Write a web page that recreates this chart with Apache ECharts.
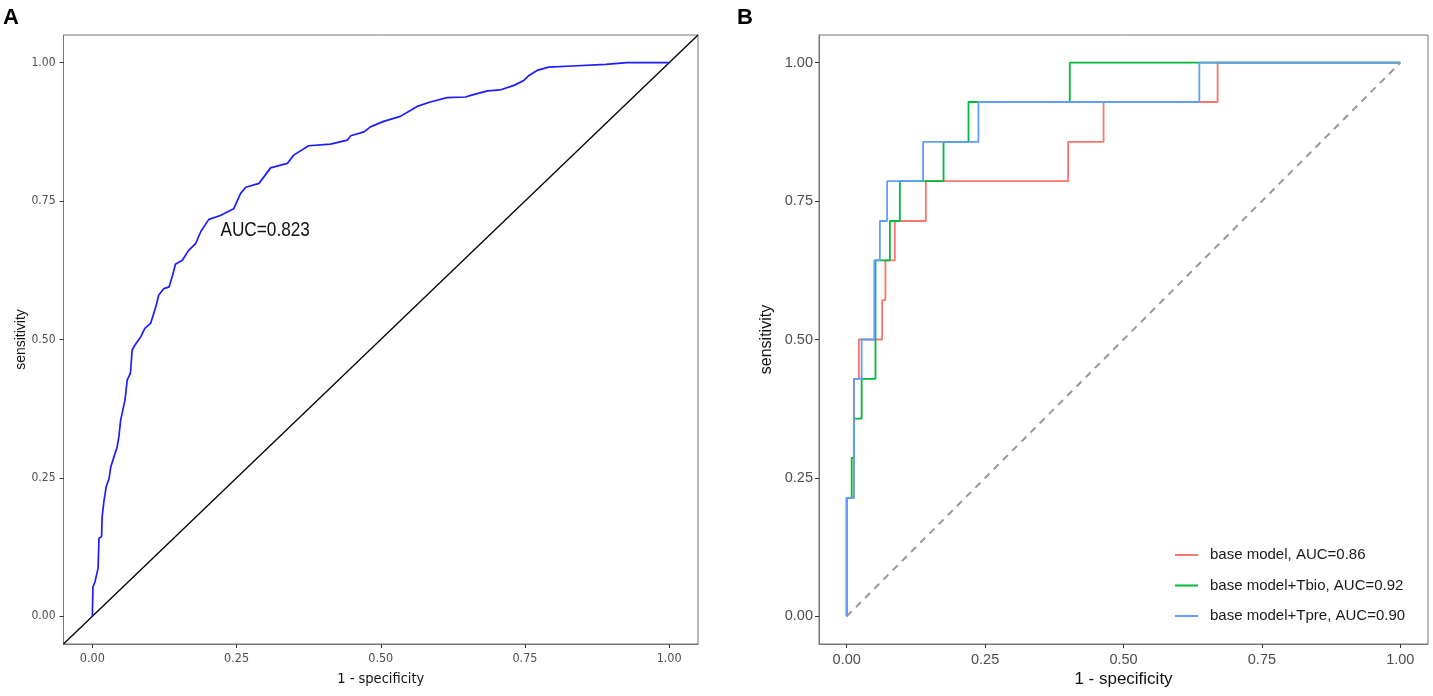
<!DOCTYPE html>
<html>
<head>
<meta charset="utf-8">
<script src="https://cdn.jsdelivr.net/npm/echarts@6/dist/echarts.min.js"></script>
<style>
  html, body { margin: 0; padding: 0; background: #fff; }
  #main { width: 1433px; height: 696px; }
</style>
</head>
<body>
<div id="main"></div>
<script>
// panel A: single ROC curve (1 - specificity, sensitivity)
const fprA = [0, 0.001, 0.0045, 0.010, 0.0115, 0.016, 0.017, 0.020, 0.024, 0.029,
  0.032, 0.0375, 0.043, 0.046, 0.049, 0.052, 0.0565, 0.0605, 0.066, 0.069,
  0.074, 0.084, 0.091, 0.101, 0.110, 0.115, 0.124, 0.133, 0.140, 0.144,
  0.156, 0.167, 0.179, 0.188, 0.202, 0.222, 0.245, 0.257, 0.266, 0.289,
  0.309, 0.338, 0.349, 0.375, 0.413, 0.442, 0.448, 0.471, 0.482, 0.505,
  0.534, 0.552, 0.563, 0.586, 0.615, 0.647, 0.656, 0.685, 0.708, 0.731,
  0.748, 0.757, 0.771, 0.791, 0.832, 0.890, 0.927, 1.0];
const tprA = [0, 0.053, 0.062, 0.087, 0.141, 0.144, 0.180, 0.207, 0.234, 0.249,
  0.270, 0.288, 0.306, 0.324, 0.354, 0.357, 0.390, 0.427, 0.439, 0.481,
  0.490, 0.505, 0.520, 0.529, 0.559, 0.580, 0.592, 0.595, 0.619, 0.636,
  0.643, 0.661, 0.673, 0.695, 0.717, 0.724, 0.736, 0.764, 0.775, 0.782,
  0.810, 0.818, 0.833, 0.850, 0.853, 0.860, 0.868, 0.875, 0.884, 0.894,
  0.903, 0.914, 0.921, 0.929, 0.937, 0.938, 0.941, 0.949, 0.951, 0.959,
  0.968, 0.977, 0.986, 0.992, 0.994, 0.997, 1.0, 1.0];
const aucLabelA = 'AUC=0.823';
const aucPosA = [0.222, 0.697];

// panel B: three models, step corners
const fprBase = [0, 0, 0.013, 0.013, 0.022, 0.022, 0.064, 0.064, 0.070, 0.070, 0.087,
  0.087, 0.143, 0.143, 0.400, 0.400, 0.464, 0.464, 0.670, 0.670, 1.0];
const tprBase = [0, 0.214, 0.214, 0.429, 0.429, 0.5, 0.5, 0.571, 0.571, 0.643, 0.643,
  0.714, 0.714, 0.786, 0.786, 0.857, 0.857, 0.929, 0.929, 1.0, 1.0];

const fprTbio = [0, 0, 0.009, 0.009, 0.013, 0.013, 0.027, 0.027, 0.052, 0.052, 0.078,
  0.078, 0.096, 0.096, 0.175, 0.175, 0.220, 0.220, 0.403, 0.403, 1.0];
const tprTbio = [0, 0.214, 0.214, 0.286, 0.286, 0.357, 0.357, 0.429, 0.429, 0.643, 0.643,
  0.714, 0.714, 0.786, 0.786, 0.857, 0.857, 0.929, 0.929, 1.0, 1.0];

const fprTpre = [0, 0, 0.013, 0.013, 0.027, 0.027, 0.050, 0.050, 0.060, 0.060,
  0.073, 0.073, 0.138, 0.138, 0.238, 0.238, 0.637, 0.637, 1.0];
const tprTpre = [0, 0.214, 0.214, 0.429, 0.429, 0.5, 0.5, 0.643, 0.643, 0.714,
  0.714, 0.786, 0.786, 0.857, 0.857, 0.929, 0.929, 1.0, 1.0];

const modelNames = ['base model, AUC=0.86', 'base model+Tbio, AUC=0.92', 'base model+Tpre, AUC=0.90'];
const modelColors = ['#F8766D', '#00BA38', '#619CFF'];

const tickValues = [0, 0.25, 0.5, 0.75, 1];
const axisRange = [-0.05, 1.05];

const zip = (xs, ys) => xs.map((x, i) => [x, ys[i]]);

const condensed = '"DejaVu Sans Condensed", "Liberation Sans Narrow", sans-serif';
const regular = '"Liberation Sans", Arial, sans-serif';

function makeAxis(gridIndex, font, size, margin) {
  return {
    type: 'value',
    gridIndex,
    min: axisRange[0],
    max: axisRange[1],
    splitLine: { show: false },
    nameMoveOverlap: false,
    axisLine: { show: true, onZero: false, lineStyle: { color: '#777', width: 1 } },
    axisTick: {
      show: true, inside: false, length: 4, customValues: tickValues,
      lineStyle: { color: '#333', width: 1 }
    },
    axisLabel: {
      customValues: tickValues,
      formatter: v => v.toFixed(2),
      color: '#4d4d4d', fontFamily: font, fontSize: size, margin
    }
  };
}

const xA = makeAxis(0, condensed, 12.5, 8);
Object.assign(xA, {
  name: '1 - specificity', nameLocation: 'middle', nameGap: 28,
  nameTextStyle: { color: '#111', fontFamily: condensed, fontSize: 14.5 }
});
const yA = makeAxis(0, condensed, 12, 8);
Object.assign(yA, {
  name: 'sensitivity', nameLocation: 'middle', nameGap: 35,
  nameTextStyle: { color: '#111', fontFamily: regular, fontSize: 14 }
});
const xB = makeAxis(1, regular, 14.5, 8);
Object.assign(xB, {
  name: '1 - specificity', nameLocation: 'middle', nameGap: 27,
  nameTextStyle: { color: '#111', fontFamily: regular, fontSize: 17 }
});
const yB = makeAxis(1, regular, 14.5, 6);
Object.assign(yB, {
  name: 'sensitivity', nameLocation: 'middle', nameGap: 44,
  nameTextStyle: { color: '#111', fontFamily: regular, fontSize: 16 }
});

const chart = echarts.init(document.getElementById('main'), null, { renderer: 'canvas' });

const option = {
  animation: false,
  backgroundColor: '#fff',
  graphic: [
    { id: 'tagA', type: 'text', left: 3, top: 7, style: { text: 'A', font: 'bold 22px ' + regular, fill: '#000' } },
    { id: 'tagB', type: 'text', left: 737, top: 7, style: { text: 'B', font: 'bold 22px ' + regular, fill: '#000' } }
  ],
  grid: [
    { left: 63.5, top: 35, width: 634.5, height: 609, show: true, borderColor: '#777', borderWidth: 1, backgroundColor: 'transparent' },
    { left: 819, top: 35, width: 609, height: 609, show: true, borderColor: '#777', borderWidth: 1, backgroundColor: 'transparent' }
  ],
  xAxis: [xA, xB],
  yAxis: [yA, yB],
  legend: {
    data: modelNames,
    orient: 'vertical',
    left: 1175,
    top: 547,
    icon: 'rect',
    itemWidth: 23,
    itemHeight: 2,
    itemGap: 14.5,
    padding: 0,
    textStyle: { fontFamily: regular, fontSize: 15, color: '#1a1a1a', lineHeight: 16, padding: [0, 0, 0, 7] }
  },
  series: [
    {
      type: 'line', xAxisIndex: 0, yAxisIndex: 0, silent: true,
      data: zip([axisRange[0], axisRange[1]], [axisRange[0], axisRange[1]]),
      showSymbol: false, lineStyle: { color: '#000', width: 1.3 }
    },
    {
      type: 'line', xAxisIndex: 0, yAxisIndex: 0,
      data: zip(fprA, tprA),
      showSymbol: false, lineStyle: { color: '#1c1cff', width: 1.7 }
    },
    {
      type: 'line', xAxisIndex: 1, yAxisIndex: 1, silent: true,
      data: zip([0, 1], [0, 1]),
      showSymbol: false, lineStyle: { color: '#999', width: 2, type: [7, 6] }
    },
    ...[[fprBase, tprBase], [fprTbio, tprTbio], [fprTpre, tprTpre]].map(([xs, ys], i) => ({
      name: modelNames[i],
      type: 'line', xAxisIndex: 1, yAxisIndex: 1,
      data: zip(xs, ys),
      showSymbol: false,
      itemStyle: { color: modelColors[i] },
      lineStyle: { color: modelColors[i], width: 1.8 }
    }))
  ]
};

chart.setOption(option);

// AUC note in panel A, placed through the axis scales, narrowed like the original font
const aucPx = chart.convertToPixel({ gridIndex: 0 }, aucPosA);
chart.setOption({
  graphic: [{
    id: 'aucA', type: 'text', x: aucPx[0], y: aucPx[1], scaleX: 0.82,
    style: { text: aucLabelA, font: '21px ' + regular, fill: '#111', verticalAlign: 'middle' }
  }]
});
</script>
</body>
</html>
